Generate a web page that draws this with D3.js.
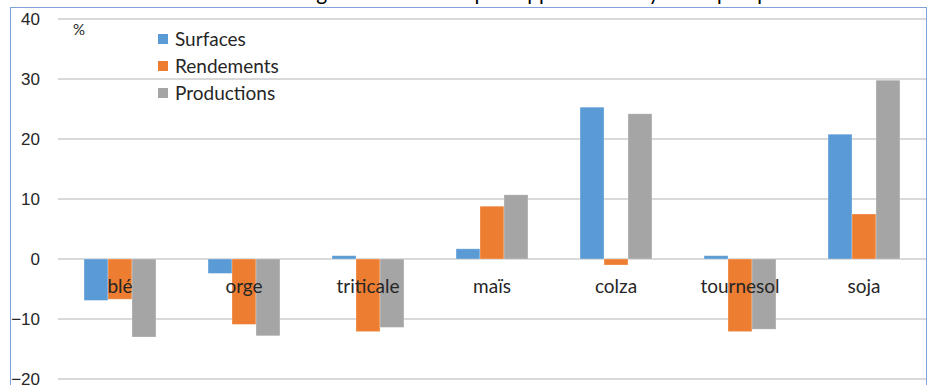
<!DOCTYPE html>
<html lang="fr">
<head>
<meta charset="utf-8">
<script src="https://cdn.jsdelivr.net/npm/d3@7"></script>
<style>
  html, body { margin: 0; padding: 0; background: #fff; }
  svg { display: block; }
  text { font-family: Lato, "Open Sans", sans-serif; fill: #262626; }
</style>
</head>
<body>
<div id="chart"></div>
<script>
// Cultures (catégories de l'axe horizontal)
const categories = ["blé", "orge", "triticale", "maïs", "colza", "tournesol", "soja"];

// Écarts en % par série
const surfaces    = [-6.9, -2.4, 0.55, 1.7, 25.3, 0.55, 20.8];
const rendements  = [-6.7, -10.9, -12.1, 8.8, -1.0, -12.1, 7.5];
const productions = [-13.0, -12.8, -11.4, 10.7, 24.2, -11.7, 29.8];

const seriesNames  = ["Surfaces", "Rendements", "Productions"];
const seriesColors = ["#5B9BD5", "#ED7D31", "#A5A5A5"];
const yTicks = [-20, -10, 0, 10, 20, 30, 40];

const title = "Évolution des cultures agricoles en 2024 par rapport à la moyenne quinquennale";

const W = 933, H = 385;
const svg = d3.select("#chart").append("svg")
  .attr("width", W).attr("height", H);

// Titre (seul le bas des lettres dépasse dans la zone visible)
svg.append("text")
  .attr("x", 466).attr("y", 0)
  .attr("text-anchor", "middle")
  .style("font-size", "21px")
  .style("fill", "#000")
  .text(title);

// Cadre du graphique
svg.append("rect")
  .attr("x", 10.5).attr("y", 7.5)
  .attr("width", 916).attr("height", 400)
  .attr("fill", "#fff")
  .attr("stroke", "#7FA2D9").attr("stroke-width", 1);

const plot = { left: 58, right: 926, top: 19, bottom: 379 };

const y = d3.scaleLinear().domain([-20, 40]).range([plot.bottom, plot.top]);
const x0 = d3.scaleBand().domain(categories)
  .range([plot.left, plot.right]).paddingInner(0.42).paddingOuter(0.21);
const x1 = d3.scaleBand().domain(seriesNames).range([0, x0.bandwidth()]);

// Quadrillage horizontal
svg.append("g").selectAll("line").data(yTicks).join("line")
  .attr("x1", plot.left).attr("x2", plot.right)
  .attr("y1", d => y(d)).attr("y2", d => y(d))
  .attr("stroke", "#D9D9D9").attr("stroke-width", 2);

// Libellés de l'axe vertical
const yAxis = d3.axisLeft(y).tickValues(yTicks).tickSize(0).tickPadding(0);
const gy = svg.append("g").attr("transform", "translate(40,0)").call(yAxis);
gy.select(".domain").remove();
gy.selectAll("text")
  .style("font-family", "'Liberation Sans', Arial, sans-serif")
  .style("font-size", "17px")
  .style("fill", "#262626");

// Barres
const table = categories.map((c, i) => ({
  cat: c,
  values: [surfaces[i], rendements[i], productions[i]]
}));

const groups = svg.append("g").selectAll("g").data(table).join("g")
  .attr("transform", d => `translate(${x0(d.cat)},0)`);

groups.selectAll("rect")
  .data(d => d.values.map((v, k) => ({ key: seriesNames[k], v, k })))
  .join("rect")
  .attr("x", d => x1(d.key))
  .attr("width", x1.bandwidth())
  .attr("y", d => y(Math.max(0, d.v)))
  .attr("height", d => Math.abs(y(d.v) - y(0)))
  .attr("fill", d => seriesColors[d.k])
  .attr("stroke", "#fff").attr("stroke-opacity", 0.35).attr("stroke-width", 0.8);

// Libellés des catégories
const xAxis = d3.axisBottom(x0).tickSize(0).tickPadding(0);
const gx = svg.append("g").attr("transform", `translate(0,${y(0)})`).call(xAxis);
gx.select(".domain").remove();
gx.selectAll("text")
  .attr("y", 0).attr("dy", "34px")
  .style("font-family", "Lato, sans-serif")
  .style("font-size", "19px")
  .style("fill", "#262626");

// Unité
svg.append("text")
  .attr("x", 73).attr("y", 35)
  .style("font-size", "15px")
  .text("%");

// Légende
const legend = svg.append("g").attr("transform", "translate(158,0)");
const lg = legend.selectAll("g").data(seriesNames).join("g")
  .attr("transform", (d, i) => `translate(0,${46 + i * 27})`);
lg.append("rect")
  .attr("x", 0).attr("y", -12)
  .attr("width", 10).attr("height", 10)
  .attr("fill", (d, i) => seriesColors[i]);
lg.append("text")
  .attr("x", 17).attr("y", 0)
  .style("font-size", "19px")
  .text(d => d);
</script>
</body>
</html>
